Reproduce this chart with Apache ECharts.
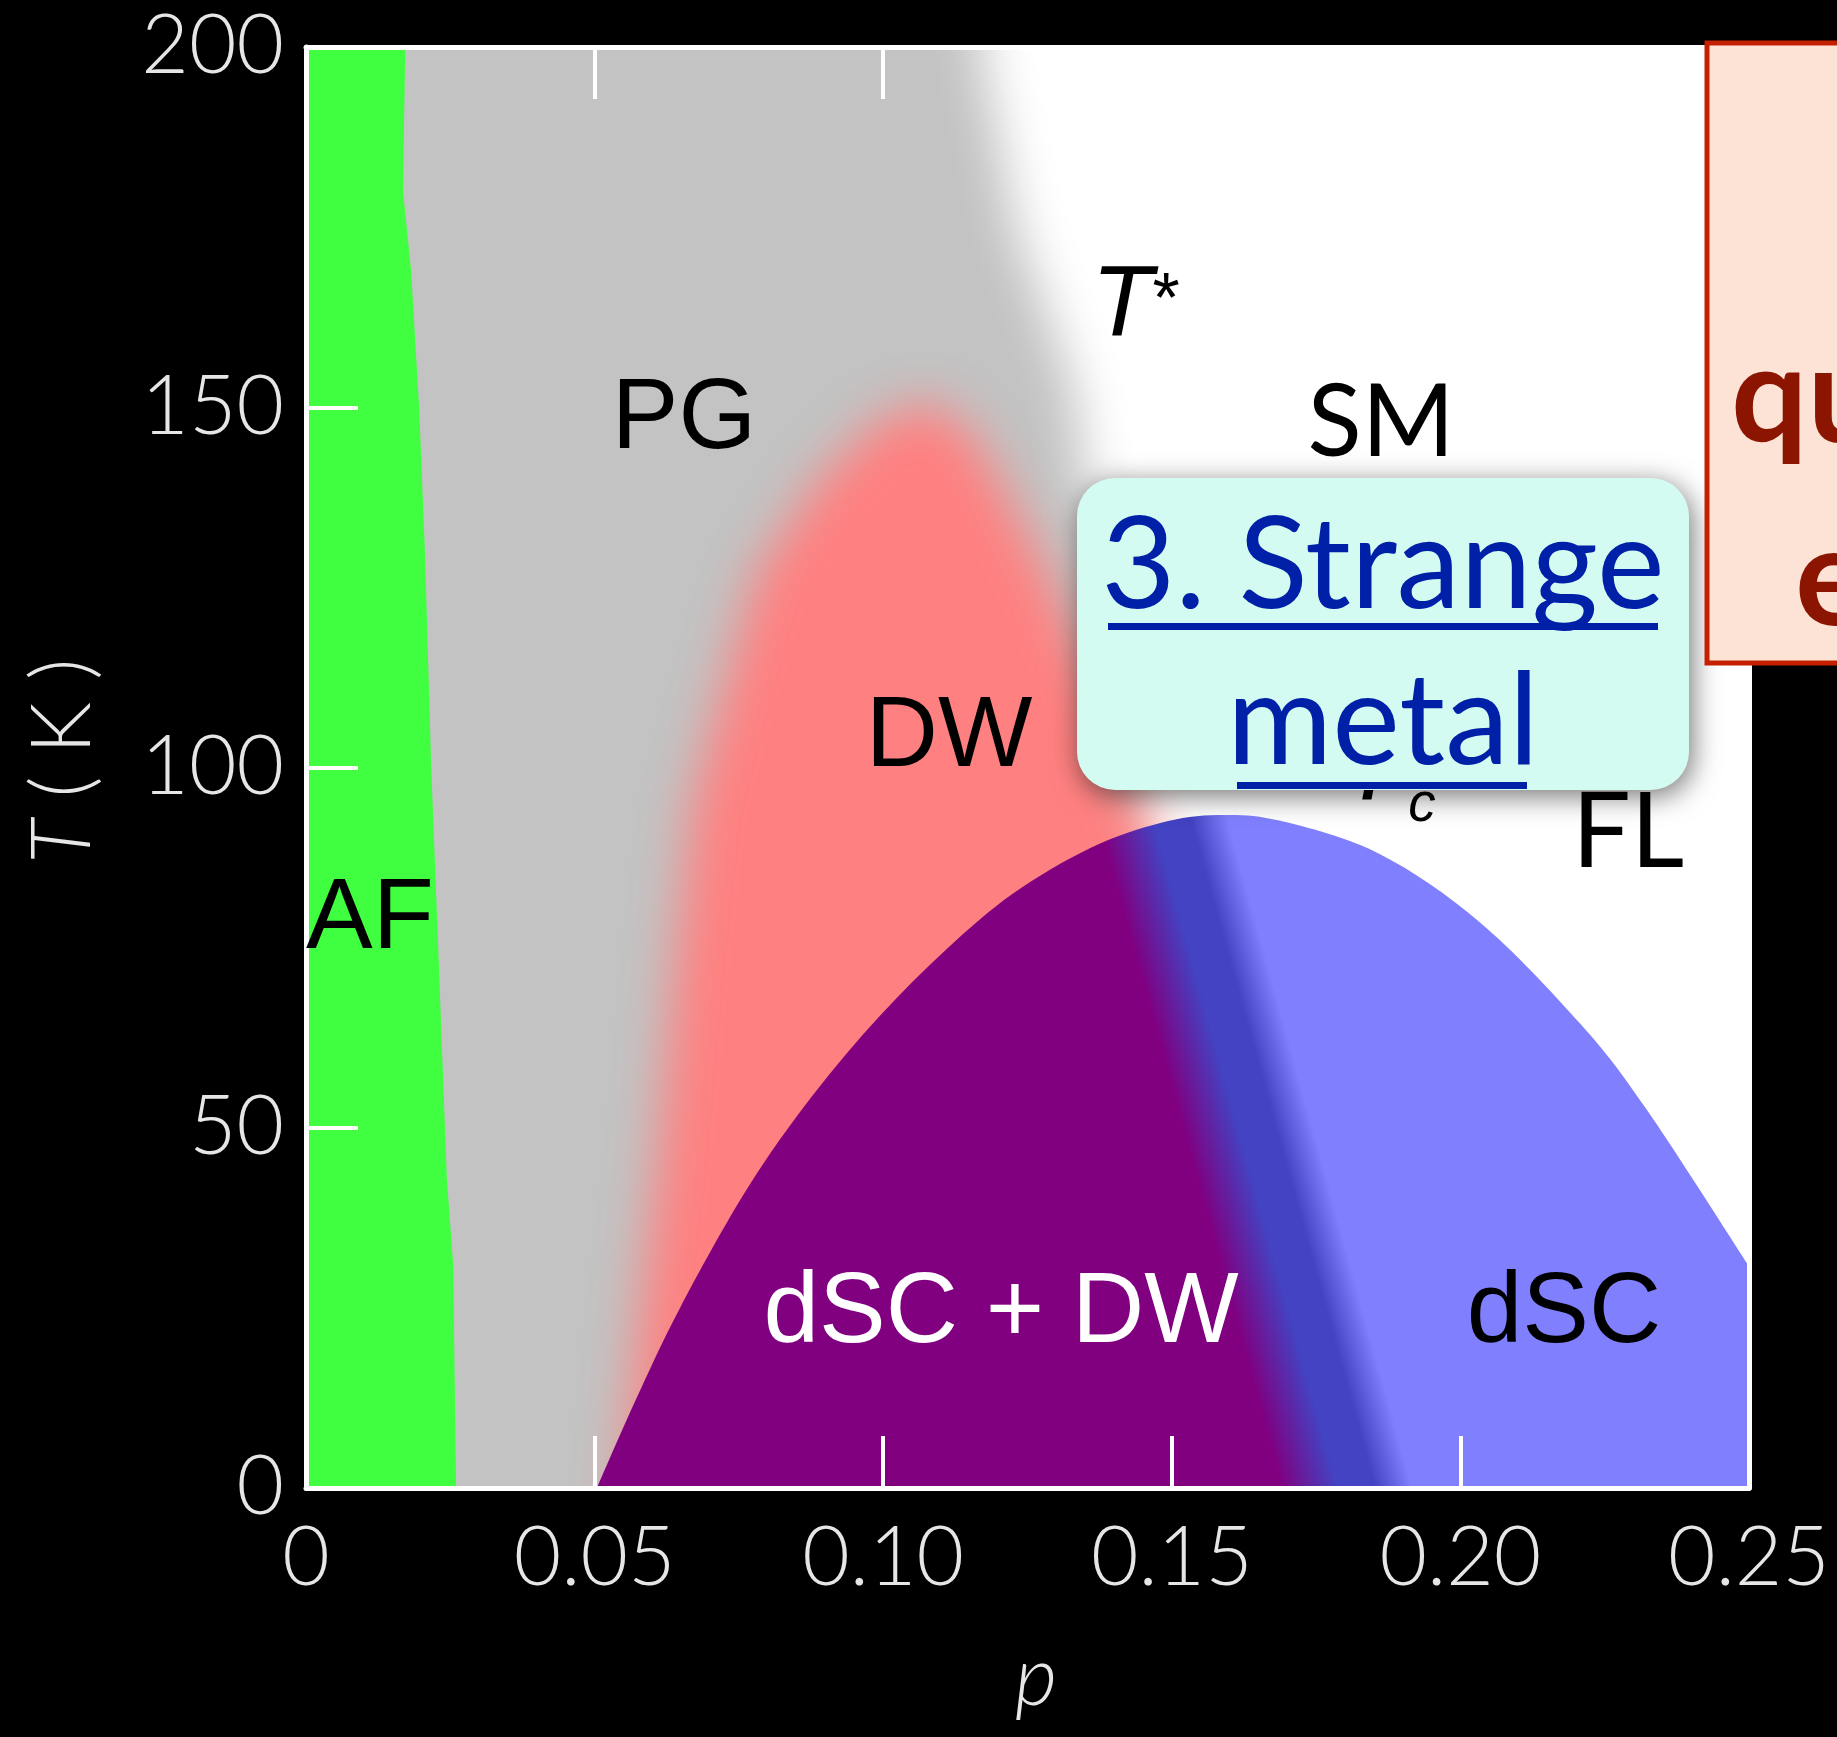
<!DOCTYPE html>
<html>
<head>
<meta charset="utf-8">
<script src="https://cdn.jsdelivr.net/npm/echarts@6/dist/echarts.min.js"></script>
<style>
  html, body { margin: 0; padding: 0; background: #000; }
  #chart { width: 1837px; height: 1737px; }
</style>
</head>
<body>
<div id="chart"></div>
<script>
// tick labels
const pTicks = ['0', '0.05', '0.10', '0.15', '0.20', '0.25'];
const tTicks = ['0', '50', '100', '150', '200'];

// AF: right edge of the antiferromagnet strip, [p, T(K)], top to bottom
const afEdge = [[0.0172, 200], [0.0168, 180], [0.0182, 169], [0.0196, 150], [0.0206, 130],
  [0.0217, 100], [0.023, 73], [0.0244, 43], [0.0255, 31], [0.026, 0]];
// T*: pseudogap crossover (middle of the soft grey/white edge), top to bottom
const tStarLine = [[0.117, 200], [0.123, 175], [0.133, 153], [0.136, 135], [0.139, 115],
  [0.141, 95], [0.146, 50], [0.15, 0]];
// DW: density-wave dome, left foot, over the top, right foot
const dwDome = [[0.055, 0], [0.058, 25], [0.061, 46], [0.064, 73], [0.067, 95], [0.072, 110],
  [0.078, 127], [0.089, 140], [0.099, 148], [0.108, 151], [0.116, 146], [0.120, 140],
  [0.128, 128], [0.136, 113], [0.144, 94], [0.151, 85], [0.170, 45], [0.182, 0]];
// Tc: superconducting dome
const scDome = [[0.0504, 0], [0.057, 12], [0.0648, 25], [0.0764, 41.5], [0.0878, 54.5],
  [0.0994, 65.5], [0.111, 74.8], [0.1225, 82.5], [0.1358, 88.8], [0.148, 92.3], [0.158, 93.4],
  [0.1688, 92.6], [0.186, 88], [0.2034, 78.5], [0.2207, 64.5], [0.2323, 52.5], [0.25, 30.8]];
// middle of the dark band where dSC + DW turns into plain dSC
const scBandEdge = [[0.151, 90], [0.182, 0]];

const COL = {
  af: '#40ff40', pg: '#c3c3c3', dw: '#ff8080',
  scDw: '#800080', band: '#4343c3', sc: '#8080ff'
};

const PAD = 400;      // how far a region is pushed past the frame before clipping
const SHIFT = 4000;   // blurred regions: shape drawn off screen, its shadow brought back

function ringLeft(pts, api) {
  const left = api.coord([0, 0])[0] - PAD;
  const a = pts[0], b = pts[pts.length - 1];
  return [[a[0], a[1] - PAD], ...pts, [b[0], b[1] + PAD], [left, b[1] + PAD], [left, a[1] - PAD]];
}
function ringBottom(pts) {
  const a = pts[0], b = pts[pts.length - 1];
  return [[a[0], a[1] + PAD], ...pts, [b[0], b[1] + PAD]];
}

function regionItem(edge, close, color, blur) {
  return function (params, api) {
    let ring = close(edge.map(d => api.coord(d)), api);
    const style = { fill: color };
    if (blur) {
      ring = ring.map(([x, y]) => [x - SHIFT, y]);
      style.shadowBlur = blur;
      style.shadowColor = color;
      style.shadowOffsetX = SHIFT;
    }
    return { type: 'polygon', shape: { points: ring }, style };
  };
}

// Catmull-Rom outline through the pixel points, as an SVG path
function smoothPath(pts) {
  let d = `M${pts[0][0]},${pts[0][1]}`;
  for (let i = 0; i < pts.length - 1; i++) {
    const p0 = pts[Math.max(i - 1, 0)], p1 = pts[i], p2 = pts[i + 1];
    const p3 = pts[Math.min(i + 2, pts.length - 1)];
    const c1 = [p1[0] + (p2[0] - p0[0]) / 6, p1[1] + (p2[1] - p0[1]) / 6];
    const c2 = [p2[0] - (p3[0] - p1[0]) / 6, p2[1] - (p3[1] - p1[1]) / 6];
    d += `C${c1[0]},${c1[1]},${c2[0]},${c2[1]},${p2[0]},${p2[1]}`;
  }
  return d;
}

// purple -> dark band -> blue, tilted along the band edge
function bandGradient(api) {
  const a = api.coord(scBandEdge[0]), b = api.coord(scBandEdge[1]);
  const len = Math.hypot(b[0] - a[0], b[1] - a[1]);
  let nx = (b[1] - a[1]) / len, ny = -(b[0] - a[0]) / len;
  if (nx < 0) { nx = -nx; ny = -ny; }
  const mx = (a[0] + b[0]) / 2, my = (a[1] + b[1]) / 2, r = 300;
  return new echarts.graphic.LinearGradient(mx - nx * r, my - ny * r, mx + nx * r, my + ny * r, [
    { offset: 0, color: COL.scDw }, { offset: 0.38, color: COL.scDw },
    { offset: 0.47, color: COL.band }, { offset: 0.53, color: COL.band },
    { offset: 0.59, color: COL.sc }, { offset: 1, color: COL.sc }
  ], true);
}

function scItem(params, api) {
  const pts = scDome.map(d => api.coord(d));
  const a = pts[0], b = pts[pts.length - 1];
  const d = smoothPath(pts) + `L${b[0]},${b[1] + PAD}L${a[0]},${a[1] + PAD}Z`;
  return { type: 'path', shape: { pathData: d }, style: { fill: bandGradient(api) } };
}

const arial = '"Liberation Sans", Arial, sans-serif';
const lato = 'Lato, "Open Sans", sans-serif';
const tickFont = { fontFamily: lato, fontWeight: 300, fontSize: 82, color: '#e6e6e6' };
const frameLine = { lineStyle: { color: '#fff', width: 5 }, onZero: false };
const frameTick = { inside: true, length: 52, lineStyle: { color: '#fff', width: 4 } };

function txt(text, x, y, font, fill, extra) {
  return Object.assign({
    type: 'text', z: 100, x, y, silent: true,
    style: { text, font, fill, align: 'center', verticalAlign: 'middle' }
  }, extra || {});
}

const chart = echarts.init(document.getElementById('chart'), null, { renderer: 'canvas' });

const option = {
  backgroundColor: '#000',
  animation: false,
  grid: {
    left: 306, top: 47, width: 1443, height: 1441,
    show: true, backgroundColor: '#fff', borderWidth: 0,
    containLabel: false, outerBoundsMode: 'none'
  },
  xAxis: [
    {
      type: 'value', min: 0, max: 0.25, interval: 0.05, position: 'bottom', z: 10,
      axisLine: frameLine, axisTick: frameTick, splitLine: { show: false },
      axisLabel: Object.assign({ margin: 30, formatter: v => pTicks[Math.round(v / 0.05)] }, tickFont)
    },
    {
      type: 'value', min: 0, max: 0.25, interval: 0.05, position: 'top', z: 10,
      axisLine: frameLine, axisTick: frameTick, splitLine: { show: false },
      axisLabel: { show: false }
    }
  ],
  yAxis: [
    {
      type: 'value', min: 0, max: 200, interval: 50, position: 'left', z: 10,
      axisLine: frameLine, axisTick: frameTick, splitLine: { show: false },
      axisLabel: Object.assign({ margin: 22, formatter: v => tTicks[Math.round(v / 50)] }, tickFont)
    },
    {
      type: 'value', min: 0, max: 200, interval: 50, position: 'right', z: 10,
      axisLine: frameLine, axisTick: { show: false }, splitLine: { show: false },
      axisLabel: { show: false }
    }
  ],
  series: [
    { type: 'custom', id: 'pg', z: 1, silent: true, clip: true, data: [[0, 0]],
      renderItem: regionItem(tStarLine, ringLeft, COL.pg, 50) },
    { type: 'custom', id: 'dw', z: 2, silent: true, clip: true, data: [[0, 0]],
      renderItem: regionItem(dwDome, ringBottom, COL.dw, 50) },
    { type: 'custom', id: 'af', z: 3, silent: true, clip: true, data: [[0, 0]],
      renderItem: regionItem(afEdge, ringLeft, COL.af, 0) },
    { type: 'custom', id: 'sc', z: 4, silent: true, clip: true, data: [[0, 0]],
      renderItem: scItem }
  ],
  graphic: [
    txt('PG', 684, 420, `100px ${arial}`, '#000'),
    txt('DW', 949, 738, `100px ${arial}`, '#000'),
    txt('AF', 370, 920, `100px ${arial}`, '#000'),
    txt('dSC + DW', 1001, 1314, `100px ${arial}`, '#fff'),
    txt('dSC', 1564, 1314, `100px ${arial}`, '#000'),
    txt('T', 1122, 307, `italic 100px ${arial}`, '#000'),
    txt('*', 1166, 303, `70px ${arial}`, '#000'),
    txt('SM', 1381, 424, `100px ${lato}`, '#000'),
    txt('FL', 1628, 833, `104px ${lato}`, '#000'),
    txt('T', 1372, 771, `italic 100px ${arial}`, '#000'),
    txt('c', 1422, 806, `italic 55px ${arial}`, '#000'),
    // "3. Strange metal" call-out
    { type: 'rect', z: 101, silent: true,
      shape: { x: 1077, y: 478, width: 612, height: 312, r: 38 },
      style: { fill: '#d3fbf2', shadowBlur: 28, shadowColor: 'rgba(0,0,0,0.55)', shadowOffsetX: 3, shadowOffsetY: 6 } },
    txt('3. Strange', 1383, 567, `128px ${lato}`, '#0020a8', { z: 102 }),
    txt('metal', 1383, 723, `128px ${lato}`, '#0020a8', { z: 102 }),
    { type: 'rect', z: 102, silent: true, shape: { x: 1108, y: 623, width: 550, height: 7 }, style: { fill: '#0020a8' } },
    { type: 'rect', z: 102, silent: true, shape: { x: 1237, y: 782, width: 290, height: 7 }, style: { fill: '#0020a8' } },
    // cut-off box on the right
    { type: 'rect', z: 103, silent: true,
      shape: { x: 1707, y: 43, width: 220, height: 620 },
      style: { fill: '#fde2d6', stroke: '#c42000', lineWidth: 5 } },
    txt('quantum', 1731, 398, `bold 135px ${lato}`, '#8b1500', { z: 104 }),
    txt('entanglement', 1795, 580, `bold 138px ${lato}`, '#8b1500', { z: 104 }),
    // axis names
    { type: 'text', z: 100, x: 64, y: 761, rotation: Math.PI / 2, silent: true,
      style: {
        text: '{i|T} ( K )', font: `300 82px ${lato}`, fill: '#e6e6e6',
        align: 'center', verticalAlign: 'middle',
        rich: { i: { fontStyle: 'italic', fontWeight: 300, fontSize: 82, fontFamily: 'Lato', fill: '#e6e6e6' } }
      } },
    txt('p', 1036, 1679, `italic 300 82px ${lato}`, '#e6e6e6')
  ]
};

// left-aligned words in the cut-off box
option.graphic.filter(g => g.style && (g.style.text === 'quantum' || g.style.text === 'entanglement'))
  .forEach(g => { g.style.align = 'left'; });

chart.setOption(option);
</script>
</body>
</html>
